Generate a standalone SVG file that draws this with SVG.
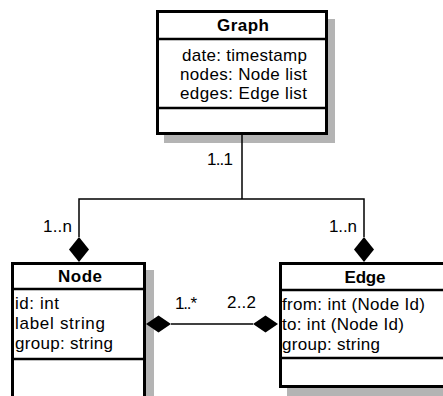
<svg xmlns="http://www.w3.org/2000/svg" width="443" height="396" viewBox="0 0 443 396">
<style>
text{font-family:"Liberation Sans",Arial,sans-serif;font-size:17px;fill:#000}
.t{font-weight:bold;text-anchor:middle}
.box{fill:#fff;stroke:#000;stroke-width:3}
.sh{fill:#b4b4b4}
.sep{stroke:#000;stroke-width:2.5}
.ln{stroke:#000;stroke-width:1.5;fill:none}
.dm{fill:#000}
</style>
<rect width="443" height="396" fill="#fff"/>
<g id="graph">
<rect class="sh" x="164" y="19" width="171" height="124"/>
<rect class="box" x="157.5" y="11.5" width="169" height="122"/>
<line class="sep" x1="157" y1="39" x2="327" y2="39"/>
<line class="sep" x1="157" y1="108" x2="327" y2="108"/>
<text class="t" x="243" y="31" textLength="52" lengthAdjust="spacing">Graph</text>
<text x="182" y="61" textLength="125" lengthAdjust="spacing">date: timestamp</text>
<text x="180" y="80" textLength="127" lengthAdjust="spacing">nodes: Node list</text>
<text x="180" y="99" textLength="127" lengthAdjust="spacing">edges: Edge list</text>
</g>
<g id="node">
<rect class="sh" x="19" y="270" width="135" height="140"/>
<rect class="box" x="12.5" y="263.5" width="132" height="140"/>
<line class="sep" x1="12" y1="289" x2="145" y2="289"/>
<line class="sep" x1="12" y1="359" x2="145" y2="359"/>
<text class="t" x="80" y="282" textLength="44" lengthAdjust="spacing">Node</text>
<text x="15" y="309" textLength="44" lengthAdjust="spacing">id: int</text>
<text x="15" y="329" textLength="90" lengthAdjust="spacing">label string</text>
<text x="15" y="349" textLength="98" lengthAdjust="spacing">group: string</text>
</g>
<g id="edge">
<rect class="sh" x="287" y="271" width="170" height="125"/>
<rect class="box" x="280.5" y="263.5" width="170" height="123"/>
<line class="sep" x1="280" y1="290" x2="443" y2="290"/>
<line class="sep" x1="280" y1="358" x2="443" y2="358"/>
<text class="t" x="365" y="283" textLength="41" lengthAdjust="spacing">Edge</text>
<text x="282" y="310" textLength="143" lengthAdjust="spacing">from: int (Node Id)</text>
<text x="282" y="330" textLength="122" lengthAdjust="spacing">to: int (Node Id)</text>
<text x="282" y="350" textLength="98" lengthAdjust="spacing">group: string</text>
</g>
<g id="connectors">
<polyline class="ln" points="242,135 242,199"/>
<polyline class="ln" points="79,237 79,199 364,199 364,237"/>
<polygon class="dm" points="79,237 89,249.5 79,262 69,249.5"/>
<polygon class="dm" points="364,237 374,249.5 364,262 354,249.5"/>
<line class="ln" x1="171" y1="324" x2="253" y2="324"/>
<polygon class="dm" points="146,324 158.5,315.5 171,324 158.5,332.5"/>
<polygon class="dm" points="253,324 265.5,315.5 278,324 265.5,332.5"/>
<text x="207" y="165" textLength="26" lengthAdjust="spacing">1..1</text>
<text x="43" y="232" textLength="29" lengthAdjust="spacing">1..n</text>
<text x="329" y="232" textLength="28" lengthAdjust="spacing">1..n</text>
<text x="175" y="309" textLength="22" lengthAdjust="spacing">1..*</text>
<text x="227" y="308" textLength="29" lengthAdjust="spacing">2..2</text>
</g>
</svg>
